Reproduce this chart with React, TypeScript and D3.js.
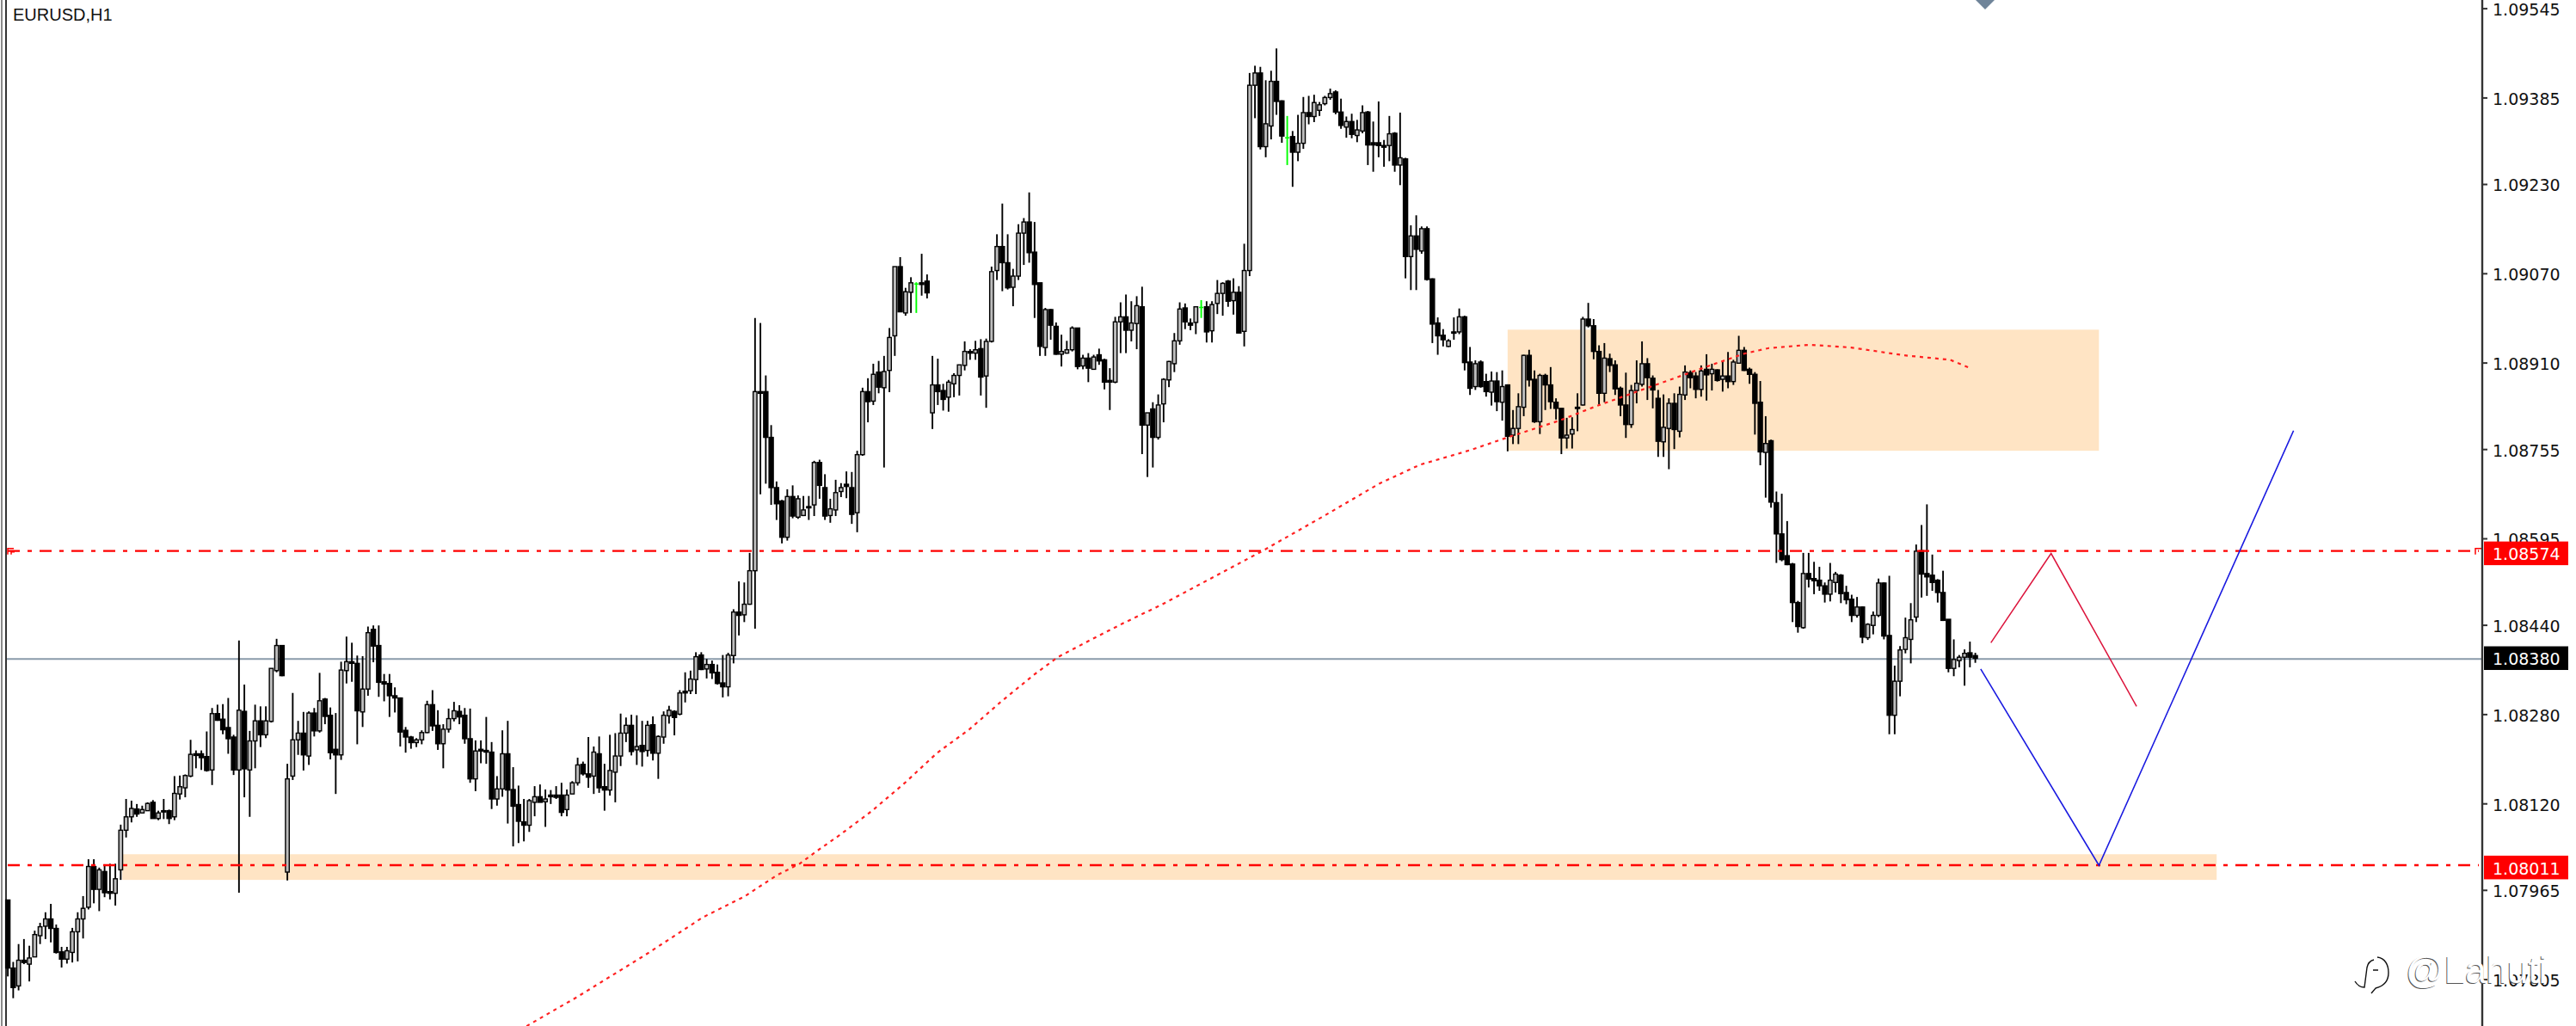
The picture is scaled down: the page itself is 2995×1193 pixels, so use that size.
import { useEffect, useRef } from "react";
import * as d3 from "d3";

// prices are stored in points (1/100000), each bar is [open, high, low, close]
type Bar = [number, number, number, number];

const leg1: Bar[] = [
  [107947,107947,107810,107825],[107825,107836,107771,107790],[107793,107868,107785,107839],[107839,107877,107832,107835],
  [107832,107865,107801,107843],[107845,107892,107845,107885],[107883,107906,107868,107899],[107900,107925,107877,107913],
  [107913,107940,107871,107896],[107896,107903,107851,107853],[107854,107863,107826,107841],[107841,107863,107833,107856],
  [107853,107897,107835,107890],[107890,107925,107837,107913],[107913,107954,107878,107932],[107934,108020,107930,108007],
  [108007,108020,107941,107966],[107966,108005,107927,108001],[107998,108011,107952,107960],[107962,108012,107948,107959],
  [107959,108012,107937,107985],[108001,108082,107983,108072],[108072,108128,108059,108096],[108096,108125,108086,108111],
  [108110,108119,108096,108101],[108103,108116,108102,108109],[108107,108122,108107,108120],[108122,108126,108093,108093],
  [108093,108107,108090,108103],[108107,108128,108092,108105],[108107,108109,108083,108093],[108096,108169,108090,108138],
  [108137,108170,108127,108150],[108148,108172,108131,108170],[108169,108234,108167,108208],[108209,108215,108183,108206],
  [108209,108215,108180,108202],[108204,108249,108177,108179],[108180,108291,108153,108281],[108281,108297,108268,108269],
  [108271,108298,108244,108252],[108256,108309,108209,108236],[108239,108243,108171,108180],[108180,108412,107960,108287],
  [108285,108333,108131,108182],[108180,108250,108096,108232],[108232,108297,108183,108268],[108268,108294,108221,108243],
  [108243,108294,108237,108268],[108267,108362,108265,108362],[108358,108415,108355,108403],[108403,108403,108348,108349],
];

const leg2: Bar[] = [
  [107997,108191,107982,108164],[108169,108318,108162,108234],[108234,108268,108207,108246],[108246,108284,108179,108207],
  [108205,108285,108189,108282],[108282,108291,108240,108250],[108250,108354,108247,108304],[108307,108309,108262,108276],
  [108278,108292,108199,108211],[108217,108282,108137,108207],[108207,108374,108198,108359],[108358,108419,108335,108374],
  [108374,108408,108338,108371],[108371,108385,108226,108286],[108284,108384,108257,108325],[108325,108437,108313,108426],
  [108432,108439,108373,108402],[108403,108439,108311,108337],[108338,108352,108303,108334],[108335,108352,108275,108313],
  [108313,108328,108283,108309],[108309,108310,108222,108248],[108251,108257,108211,108239],[108239,108241,108218,108229],
  [108229,108237,108221,108234],[108234,108251,108226,108247],[108247,108304,108246,108297],[108297,108323,108250,108259],
  [108260,108287,108216,108227],[108227,108262,108183,108253],[108253,108290,108247,108272],[108272,108302,108267,108286],
  [108285,108296,108262,108275],[108278,108291,108227,108236],[108236,108290,108157,108164],[108164,108233,108142,108214],
  [108217,108233,108192,108214],[108215,108275,108191,108212],[108212,108230,108110,108128],[108128,108169,108116,108146],
  [108146,108251,108132,108209],[108209,108268,108084,108144],[108145,108185,108043,108115],[108118,108152,108049,108088],
  [108087,108128,108052,108081],[108081,108128,108069,108125],[108122,108151,108097,108132],[108132,108154,108122,108122],
  [108123,108145,108078,108128],[108135,108144,108119,108132],[108135,108151,108128,108131],[108135,108157,108097,108104],
  [108109,108145,108097,108135],[108137,108160,108137,108157],[108157,108202,108152,108189],[108190,108195,108170,108173],
  [108173,108239,108148,108167],[108169,108222,108137,108212],[108209,108240,108139,108148],[108150,108191,108107,108144],
  [108144,108243,108134,108179],[108176,108246,108122,108205],[108205,108281,108187,108246],[108246,108274,108230,108260],
  [108260,108279,108206,108213],[108216,108278,108189,108222],[108224,108268,108186,108213],
];

const leg3: Bar[] = [
  [108215,108268,108204,108260],[108261,108276,108197,108210],[108210,108242,108164,108240],[108239,108285,108227,108278],
  [108277,108295,108263,108287],[108285,108287,108242,108274],[108280,108323,108278,108318],[108321,108355,108301,108318],
  [108322,108358,108316,108343],[108342,108391,108316,108383],[108386,108391,108359,108360],[108361,108379,108344,108369],
  [108369,108376,108343,108354],[108355,108369,108333,108335],[108336,108386,108310,108329],[108329,108390,108312,108386],
  [108385,108468,108371,108463],[108463,108518,108421,108457],[108458,108516,108445,108477],[108477,108569,108476,108537],
  [108537,108990,108433,108858],[108858,108981,108674,108855],[108858,108887,108693,108776],[108776,108798,108655,108686],
  [108686,108697,108628,108657],[108662,108664,108586,108597],[108597,108683,108591,108670],[108670,108690,108631,108635],
  [108633,108672,108630,108666],[108636,108671,108635,108646],[108652,108671,108628,108650],[108655,108734,108635,108731],
  [108731,108736,108666,108690],[108686,108710,108628,108635],[108636,108666,108623,108648],[108646,108700,108635,108677],
  [108679,108694,108669,108686],[108692,108715,108667,108688],[108686,108714,108621,108638],[108641,108752,108606,108745],
  [108745,108865,108743,108858],[108858,108882,108803,108840],[108841,108908,108834,108889],[108893,108913,108855,108866],
  [108865,108922,108722,108894],[108896,108972,108857,108955],[108958,109082,108922,109082],[109082,109099,109001,109001],
  [108999,109044,108994,109037],[109036,109063,108999,109053],[109052,109054,108999,109052],[109053,109105,109030,109050],
  [109056,109068,109025,109035],
];

const leg4: Bar[] = [
  [108820,108922,108791,108870],[108870,108917,108834,108858],[108860,108872,108824,108844],[108848,108879,108822,108875],
  [108872,108891,108848,108887],[108887,108906,108851,108906],[108905,108948,108896,108930],[108930,108934,108915,108927],
  [108927,108949,108915,108933],[108935,108952,108851,108884],[108886,108953,108829,108948],[108948,109082,108946,109073],
  [109075,109140,109058,109118],[109118,109195,109038,109089],[109089,109140,109041,109044],[109045,109078,109011,109065],
  [109065,109158,109058,109142],[109142,109169,109085,109162],[109162,109215,109089,109107],[109108,109162,108990,109050],
  [109053,109053,108922,108939],[108937,109008,108922,109005],[109005,109006,108951,108977],[108975,108982,108924,108925],
  [108925,108960,108903,108930],[108927,108949,108926,108933],[108933,108975,108930,108972],[108972,108972,108898,108903],
  [108904,108924,108898,108918],[108918,108927,108875,108900],[108898,108924,108898,108920],[108924,108935,108906,108913],
  [108915,108917,108862,108875],[108878,108900,108825,108875],[108875,108992,108873,108983],[108983,109018,108927,108992],
  [108992,109032,108927,108968],[108968,109020,108948,108981],[108980,109029,108934,109012],[109010,109046,108746,108798],
  [108798,108820,108705,108820],[108827,108839,108722,108776],[108776,108853,108772,108834],[108836,108882,108803,108880],
  [108879,108913,108866,108912],[108908,108963,108893,108949],[108949,109018,108942,109006],[109008,109016,108970,108983],
  [108981,108989,108968,108977],[108982,109010,108961,109010],[109010,109022,108990,109010],[109010,109020,108946,108965],
  [108967,109020,108946,109014],[109016,109058,108997,109034],[109034,109054,108994,109052],[109056,109058,109010,109020],
  [109021,109061,108996,109036],[109036,109047,108963,108963],[108966,109123,108939,109075],
];

const leg5: Bar[] = [
  [109075,109429,109065,109407],[109407,109442,109348,109429],[109429,109440,109292,109297],[109297,109416,109278,109338],
  [109334,109433,109310,109414],[109414,109473,109354,109378],[109379,109380,109304,109316],[109314,109352,109264,109314],
  [109315,109325,109225,109287],[109287,109354,109271,109303],[109303,109386,109293,109358],[109358,109388,109337,109351],
  [109351,109390,109341,109376],[109362,109377,109352,109372],[109374,109388,109371,109385],[109385,109401,109381,109392],
  [109395,109398,109355,109359],[109359,109383,109329,109335],[109332,109351,109313,109342],[109342,109356,109312,109319],
  [109317,109345,109305,109327],[109325,109371,109321,109358],[109359,109361,109264,109300],[109304,109342,109252,109300],
  [109304,109378,109278,109299],[109299,109309,109261,109296],[109299,109352,109271,109320],[109321,109323,109252,109264],
  [109264,109358,109228,109277],[109275,109277,109061,109100],[109100,109156,109040,109137],[109137,109174,109040,109113],
  [109110,109154,109105,109150],[109150,109154,109057,109059],[109060,109061,108945,108979],[108981,108991,108924,108958],
  [108959,108970,108939,108951],[108939,108952,108938,108949],[108965,108991,108951,108963],[108965,109007,108961,108992],
  [108992,108994,108896,108910],[108911,108938,108852,108864],[108867,108914,108861,108908],[108911,108914,108865,108867],
  [108876,108890,108849,108858],[108857,108894,108833,108877],[108877,108893,108823,108840],[108839,108896,108806,108867],
];

const leg6: Bar[] = [
  [108870,108871,108751,108778],[108780,108825,108764,108792],[108792,108855,108764,108831],[108830,108924,108814,108923],
  [108923,108933,108867,108879],[108880,108896,108802,108804],[108804,108890,108782,108887],[108887,108890,108825,108870],
  [108870,108902,108827,108840],[108839,108846,108808,108828],[108828,108828,108746,108775],[108775,108811,108756,108780],
  [108782,108812,108756,108790],[108830,108855,108787,108828],[108834,108992,108833,108988],[108988,109017,108973,108976],
  [108976,108988,108916,108930],[108930,108941,108835,108855],[108855,108945,108839,108918],[108917,108926,108893,108905],
  [108906,108914,108852,108863],[108864,108867,108814,108834],[108834,108892,108775,108799],[108799,108870,108793,108860],
  [108860,108914,108837,108873],[108871,108948,108867,108908],[108908,108918,108843,108883],[108882,108887,108828,108861],
  [108846,108861,108741,108769],[108768,108853,108741,108794],[108792,108846,108719,108837],[108837,108855,108755,108790],
  [108787,108867,108776,108853],[108852,108905,108843,108893],[108892,108896,108864,108883],[108886,108893,108846,108862],
  [108862,108905,108849,108895],[108898,108925,108842,108888],[108890,108908,108860,108898],[108897,108898,108876,108878],
  [108880,108914,108858,108886],[108886,108929,108864,108876],[108876,108915,108870,108911],[108909,108958,108908,108932],
  [108932,108938,108895,108896],[108898,108901,108872,108889],[108889,108893,108781,108837],[108839,108877,108726,108750],
  [108749,108814,108668,108765],[108770,108772,108650,108660],
];

const leg7: Bar[] = [
  [108659,108679,108551,108603],[108603,108675,108554,108557],[108564,108626,108547,108548],[108549,108551,108445,108480],
  [108480,108483,108426,108437],[108435,108569,108433,108532],[108532,108569,108507,108522],[108523,108553,108495,108519],
  [108520,108544,108501,108510],[108510,108516,108480,108495],[108495,108551,108482,108520],[108516,108535,108498,108531],
  [108529,108531,108479,108496],[108498,108510,108477,108485],[108486,108494,108445,108457],[108457,108490,108453,108472],
  [108472,108473,108407,108418],[108417,108443,108413,108441],[108439,108464,108423,108457],[108457,108523,108454,108515],
  [108515,108516,108414,108420],[108421,108528,108244,108278],[108278,108367,108244,108339],[108339,108402,108312,108395],
  [108396,108453,108389,108417],[108414,108479,108371,108449],[108454,108584,108445,108572],[108573,108619,108489,108531],
  [108532,108656,108492,108526],[108529,108566,108501,108516],[108520,108522,108480,108498],[108498,108537,108447,108448],
  [108450,108450,108355,108362],[108362,108414,108348,108378],[108376,108386,108364,108382],[108382,108396,108331,108389],
  [108390,108410,108364,108382],[108385,108390,108372,108380],
];

const bars: Bar[] = [...leg1, ...leg2, ...leg3, ...leg4, ...leg5, ...leg6, ...leg7];
const greenBars = [169, 222, 238];

// moving average, bar index and value
const maIndex = [96.5,105.7,118.5,129.3,137,143,147.3,150.4,154.7,160.8,166.9,172.8,178.9,184.6,190.8,195.3,201.2,207.3,214.6,233.3,244.8,255.1,262.7,272,279,288.6,295.5,307.7,316.1,323,327.6,335.2,342.9,352.8,361.3,365.1];
const maValues = [107721,107772,107848,107916,107953,107991,108012,108034,108063,108107,108157,108210,108253,108301,108350,108382,108412,108442,108476,108572,108635,108693,108727,108753,108776,108806,108832,108874,108903,108926,108936,108942,108937,108923,108915,108900];

// hand drawn forecast lines
const redPathIndex = [368.9, 380.1, 396];
const redPathValues = [108408, 108568, 108294];
const bluePathIndex = [367, 389, 425.2];
const bluePathValues = [108361, 108009, 108788];

// zones: from bar, to bar, top, bottom
const zoneUpper = [279, 389, 108969, 108752];
const zoneLower = [21.3, 410.9, 108029, 107983];

const tickValues = [109545,109385,109230,109070,108910,108755,108595,108440,108280,108120,107965,107805];
const supportLevel = 108011;
const resistLevel = 108574;
const lastPrice = 108380;

const W = 2995;
const H = 1193;
const axisX = 2886;
const FONT = "'DejaVu Sans', sans-serif";

const fmt = (p: number) => (p / 100000).toFixed(5);

const App = () => {
  const ref = useRef<SVGSVGElement>(null);

  useEffect(() => {
    const svg = d3.select(ref.current);
    svg.selectAll("*").remove();

    const x = d3.scaleLinear().domain([0, 366]).range([9.1, 2296.6]);
    const y = d3.scaleLinear().domain([109545, 107805]).range([9.6, 1138.6]);

    // zones
    [zoneUpper, zoneLower].forEach((z) => {
      svg.append("rect")
        .attr("x", x(z[0]))
        .attr("y", y(z[2]))
        .attr("width", x(z[1]) - x(z[0]))
        .attr("height", y(z[3]) - y(z[2]))
        .attr("fill", "#ffe4c4");
    });

    // left frame
    svg.append("line").attr("x1", 2).attr("x2", 2).attr("y1", 0).attr("y2", H).attr("stroke", "#8a8a8a").attr("stroke-width", 2);
    svg.append("line").attr("x1", 7).attr("x2", 7).attr("y1", 0).attr("y2", H).attr("stroke", "#333").attr("stroke-width", 2);

    // last price line
    svg.append("line")
      .attr("x1", 8).attr("x2", axisX)
      .attr("y1", y(lastPrice) + 0.8).attr("y2", y(lastPrice) + 0.8)
      .attr("stroke", "#8a9aaa").attr("stroke-width", 2);

    // candles
    const candle = svg.append("g").selectAll("g").data(bars).join("g");
    const colorOf = (i: number) => (greenBars.includes(i) ? "#00ff00" : "#000");

    candle.append("line")
      .attr("x1", (_, i) => x(i)).attr("x2", (_, i) => x(i))
      .attr("y1", (d) => y(d[1])).attr("y2", (d) => y(d[2]))
      .attr("stroke", (_, i) => colorOf(i))
      .attr("stroke-width", 1.9);

    candle.append("rect")
      .attr("x", (d, i) => x(i) - (greenBars.includes(i) ? 2.5 : d[3] >= d[0] ? 2.2 : 2.5))
      .attr("width", (d, i) => (greenBars.includes(i) ? 5 : d[3] >= d[0] ? 4.4 : 5))
      .attr("y", (d) => y(Math.max(d[0], d[3])))
      .attr("height", (d) => Math.max(1.5, Math.abs(y(d[0]) - y(d[3]))))
      .attr("fill", (d, i) => (greenBars.includes(i) ? "#00ff00" : d[3] >= d[0] ? "#bdbdbd" : "#000"))
      .attr("stroke", (d, i) => (greenBars.includes(i) ? "none" : "#000"))
      .attr("stroke-width", 1.4);

    // horizontal levels
    [resistLevel, supportLevel].forEach((v) => {
      svg.append("line")
        .attr("x1", 9).attr("x2", axisX - 4)
        .attr("y1", y(v) + 1).attr("y2", y(v) + 1)
        .attr("stroke", "#ff0000").attr("stroke-width", 2.4)
        .attr("stroke-dasharray", "14 9 5 9");
    });

    // little arrows at the level ends
    svg.append("path")
      .attr("d", `M9 ${y(resistLevel) + 5}V${y(resistLevel) - 2}H16M13 ${y(resistLevel) + 5}V${y(resistLevel) + 2}H17M${axisX - 8} ${y(resistLevel) + 5}V${y(resistLevel) - 2}H${axisX}`)
      .attr("fill", "none").attr("stroke", "#ff0000").attr("stroke-width", 1.5);

    // moving average
    const line = d3.line<number>()
      .x((d) => x(d))
      .y((_, i) => y(maValues[i]));
    svg.append("path")
      .attr("d", line(maIndex))
      .attr("fill", "none").attr("stroke", "#ff2020").attr("stroke-width", 2.2)
      .attr("stroke-dasharray", "4 5");

    // forecast paths
    const pathOf = (xs: number[], ys: number[]) =>
      d3.line<number>().x((d) => x(d)).y((_, i) => y(ys[i]))(xs);
    svg.append("path").attr("d", pathOf(redPathIndex, redPathValues)).attr("fill", "none").attr("stroke", "#dc143c").attr("stroke-width", 1.5);
    svg.append("path").attr("d", pathOf(bluePathIndex, bluePathValues)).attr("fill", "none").attr("stroke", "#1a1ae0").attr("stroke-width", 1.6);

    // price axis
    svg.append("line").attr("x1", axisX).attr("x2", axisX).attr("y1", 0).attr("y2", H).attr("stroke", "#333").attr("stroke-width", 2.4);
    const axis = d3.axisRight(y)
      .tickValues(tickValues)
      .tickFormat((d) => fmt(d as number))
      .tickSize(6)
      .tickPadding(6);
    const ag = svg.append("g").attr("transform", `translate(${axisX},0)`).call(axis);
    ag.select(".domain").remove();
    ag.selectAll("line").attr("stroke", "#333").attr("stroke-width", 2);
    ag.selectAll("text")
      .attr("dy", "0.42em")
      .attr("fill", "#111")
      .attr("font-family", FONT)
      .attr("font-size", 19);

    // price tags
    const tags: [number, string, number, number][] = [
      [resistLevel, "#ff0000", -10, 4.5],
      [lastPrice, "#000", -14, 1],
      [supportLevel, "#ff0000", -10, 5],
    ];
    tags.forEach(([v, c, off, tx]) => {
      svg.append("rect")
        .attr("x", axisX + 2).attr("y", y(v) + off)
        .attr("width", 98).attr("height", 27.5)
        .attr("fill", c);
      svg.append("text")
        .attr("x", axisX + 12).attr("y", y(v) + tx)
        .attr("dy", "0.35em")
        .attr("fill", "#fff")
        .attr("font-family", FONT).attr("font-size", 19)
        .text(fmt(v));
    });

    // symbol caption
    svg.append("text")
      .attr("x", 15).attr("y", 24)
      .attr("fill", "#111")
      .attr("font-family", "Tahoma, 'Liberation Sans', sans-serif")
      .attr("font-size", 20)
      .text("EURUSD,H1");

    // marker at the top edge
    svg.append("path").attr("d", "M2297 0H2319L2308 11Z").attr("fill", "#6f8499");

    // watermark
    svg.append("path")
      .attr("d", "M2764 1113C2773 1114 2777 1122 2777 1131C2777 1143 2770 1147 2762 1149L2757 1155M2738 1141C2741 1146 2745 1148 2749 1148L2752 1125C2753 1120 2756 1117 2760 1116M2759 1128H2765")
      .attr("fill", "none").attr("stroke", "#111").attr("stroke-width", 1.4);
    const mark = (dx: number, dy: number, fill: string) =>
      svg.append("text")
        .attr("x", 2797 + dx).attr("y", 1143 + dy)
        .attr("fill", fill)
        .attr("font-family", "'Liberation Sans', sans-serif")
        .attr("font-size", 44)
        .text("@Lahuti");
    mark(-1, 0.8, "#555");
    mark(0, 0, "#fff");
  }, []);

  return (
    <svg
      ref={ref}
      width={W}
      height={H}
      style={{ position: "absolute", left: 0, top: 0, background: "#fff", display: "block" }}
    />
  );
};

export default App;
